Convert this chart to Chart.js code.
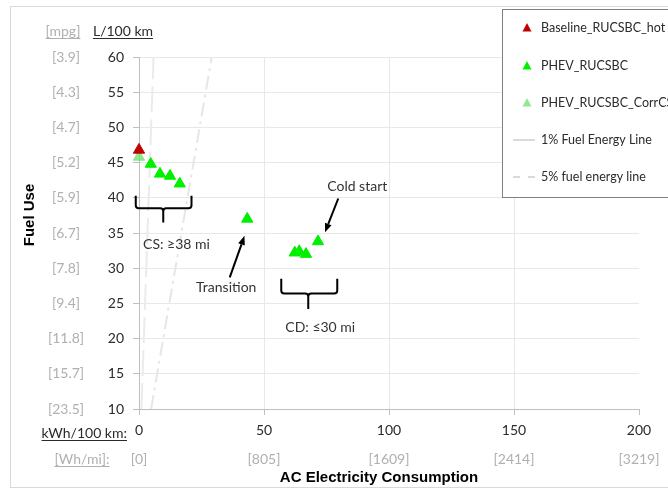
<!DOCTYPE html>
<html>
<head>
<meta charset="utf-8">
<script src="https://cdn.jsdelivr.net/npm/chart.js@4/dist/chart.umd.min.js"></script>
<style>
  html, body { margin: 0; padding: 0; background: #fff; }
  #wrap { width: 668px; height: 489px; position: relative; }
</style>
</head>
<body>
<div id="wrap"><canvas id="c" width="668" height="489"></canvas></div>
<script>
// ---- data ----
const baselineX = [0];
const baselineY = [46.8];
const phevX = [4.7, 8.4, 12.4, 16.3, 43.3, 62.3, 64.1, 66.8, 71.6];
const phevY = [44.8, 43.4, 43.1, 42.0, 37.0, 32.2, 32.4, 32.0, 33.8];
const corrX = [0];
const corrY = [45.8];
const line1X = [0.97, 5.82];
const line1Y = [10, 60];
const line5X = [4.85, 29.1];
const line5Y = [10, 60];
const seriesNames = ['Baseline_RUCSBC_hot', 'PHEV_RUCSBC', 'PHEV_RUCSBC_CorrCS', '1% Fuel Energy Line', '5% fuel energy line'];
const yTickValues = [10, 15, 20, 25, 30, 35, 40, 45, 50, 55, 60];
const mpgLabels = ['[23.5]', '[15.7]', '[11.8]', '[9.4]', '[7.8]', '[6.7]', '[5.9]', '[5.2]', '[4.7]', '[4.3]', '[3.9]'];
const xTickValues = [0, 50, 100, 150, 200];
const whMiLabels = ['[0]', '[805]', '[1609]', '[2414]', '[3219]'];
const annotationTexts = ['CS: \u226538 mi', 'Transition', 'Cold start', 'CD: \u226430 mi'];
const annotationX = [15.0, 34.9, 87.3, 72.5];
const annotationY = [33.4, 27.2, 41.6, 21.6];
// arrows: [fromX, fromY, toX, toY]
const transitionArrow = [36.3, 28.7, 42.2, 34.6];
const coldStartArrow = [79.7, 39.9, 74.4, 35.1];
// braces: [x1, x2, centerX, topY, bottomY, tipY]
const csBrace = [-1.3, 21.0, 9.7, 40.3, 38.5, 36.5];
const cdBrace = [56.9, 79.3, 67.7, 28.5, 26.4, 24.2];

const pts = (xs, ys) => xs.map((x, i) => ({ x: x, y: ys[i] }));

const FONT = 'Lato, "Open Sans", sans-serif';
const DARK = '#2b2b2b';
const GREY = '#b0b0b0';

function underline(ctx, text, x, y, align, color) {
  const w = ctx.measureText(text).width;
  let x0 = x;
  if (align === 'center') x0 = x - w / 2;
  else if (align === 'right') x0 = x - w;
  ctx.strokeStyle = color;
  ctx.lineWidth = 1;
  ctx.beginPath();
  ctx.moveTo(x0, Math.round(y + 7) + 0.5);
  ctx.lineTo(x0 + w, Math.round(y + 7) + 0.5);
  ctx.stroke();
}

const decorPlugin = {
  id: 'decor',
  beforeDraw(chart) {
    const ctx = chart.ctx;
    ctx.save();
    ctx.fillStyle = '#fff';
    ctx.fillRect(0, 0, chart.width, chart.height);
    ctx.strokeStyle = '#d9d9d9';
    ctx.lineWidth = 1;
    ctx.strokeRect(10.5, 6.5, 700, 481);
    ctx.restore();
  },
  afterDraw(chart) {
    const ctx = chart.ctx;
    const xs = chart.scales.x, ys = chart.scales.y;
    ctx.save();
    ctx.textBaseline = 'middle';

    // secondary y labels (mpg)
    ctx.font = '14px ' + FONT;
    ctx.fillStyle = GREY;
    ctx.textAlign = 'center';
    yTickValues.forEach((v, i) => ctx.fillText(mpgLabels[i], 66, ys.getPixelForValue(v)));
    // headers
    ctx.fillText('[mpg]', 63, 31);
    underline(ctx, '[mpg]', 63, 31, 'center', GREY);
    ctx.fillStyle = DARK;
    ctx.fillText('L/100 km', 123, 31);
    underline(ctx, 'L/100 km', 123, 31, 'center', DARK);

    // secondary x labels (Wh/mi)
    ctx.fillStyle = GREY;
    xTickValues.forEach((v, i) => ctx.fillText(whMiLabels[i], xs.getPixelForValue(v), 459));
    ctx.fillText('[Wh/mi]:', 82, 459);
    underline(ctx, '[Wh/mi]:', 82, 459, 'center', GREY);
    ctx.fillStyle = DARK;
    ctx.textAlign = 'right';
    ctx.fillText('kWh/100 km:', 127, 433);
    underline(ctx, 'kWh/100 km:', 127, 433, 'right', DARK);

    // axis titles
    ctx.font = 'bold 15px "Liberation Sans", Arial, sans-serif';
    ctx.fillStyle = '#000';
    ctx.textAlign = 'center';
    ctx.fillText('AC Electricity Consumption', 379, 478);
    ctx.save();
    ctx.translate(30, 215);
    ctx.rotate(-Math.PI / 2);
    ctx.fillText('Fuel Use', 0, 0);
    ctx.restore();

    // annotations
    ctx.font = '14px ' + FONT;
    ctx.fillStyle = '#333';
    annotationTexts.forEach((t, i) => ctx.fillText(t, xs.getPixelForValue(annotationX[i]), ys.getPixelForValue(annotationY[i])));

    function arrow(a) {
      const x1 = xs.getPixelForValue(a[0]), y1 = ys.getPixelForValue(a[1]);
      const x2 = xs.getPixelForValue(a[2]), y2 = ys.getPixelForValue(a[3]);
      const ang = Math.atan2(y2 - y1, x2 - x1);
      const hl = 9, hw = 3.5;
      const bx = x2 - hl * Math.cos(ang), by = y2 - hl * Math.sin(ang);
      ctx.strokeStyle = '#000';
      ctx.lineWidth = 2;
      ctx.beginPath();
      ctx.moveTo(x1, y1);
      ctx.lineTo(bx, by);
      ctx.stroke();
      ctx.fillStyle = '#000';
      ctx.beginPath();
      ctx.moveTo(x2, y2);
      ctx.lineTo(bx + hw * Math.sin(ang), by - hw * Math.cos(ang));
      ctx.lineTo(bx - hw * Math.sin(ang), by + hw * Math.cos(ang));
      ctx.closePath();
      ctx.fill();
    }
    arrow(transitionArrow);
    arrow(coldStartArrow);

    function brace(b) {
      const x1 = xs.getPixelForValue(b[0]), x2 = xs.getPixelForValue(b[1]), cx = xs.getPixelForValue(b[2]);
      const top = ys.getPixelForValue(b[3]), bot = ys.getPixelForValue(b[4]), tip = ys.getPixelForValue(b[5]);
      const r = 3;
      ctx.strokeStyle = '#000';
      ctx.lineWidth = 2;
      ctx.beginPath();
      ctx.moveTo(x1, top);
      ctx.lineTo(x1, bot - r);
      ctx.quadraticCurveTo(x1, bot, x1 + r, bot);
      ctx.lineTo(cx - r, bot);
      ctx.quadraticCurveTo(cx, bot, cx, bot + r);
      ctx.lineTo(cx, tip);
      ctx.moveTo(cx, bot + r);
      ctx.quadraticCurveTo(cx, bot, cx + r, bot);
      ctx.lineTo(x2 - r, bot);
      ctx.quadraticCurveTo(x2, bot, x2, bot - r);
      ctx.lineTo(x2, top);
      ctx.stroke();
    }
    brace(csBrace);
    brace(cdBrace);

    // legend
    ctx.fillStyle = '#fff';
    ctx.fillRect(502.5, 9.5, 200, 188);
    ctx.strokeStyle = '#808080';
    ctx.lineWidth = 1;
    ctx.strokeRect(502.5, 9.5, 200, 188);
    const rows = [28, 66, 103, 140, 177];
    ctx.font = '12.5px ' + FONT;
    ctx.textAlign = 'left';
    chart.data.datasets.forEach((ds, i) => {
      const y = rows[i];
      if (ds.showLine) {
        ctx.strokeStyle = '#d9d9d9';
        ctx.lineWidth = ds.borderWidth;
        ctx.setLineDash(ds.legendDash || []);
        ctx.beginPath();
        ctx.moveTo(513, y);
        ctx.lineTo(535, y);
        ctx.stroke();
        ctx.setLineDash([]);
      } else {
        ctx.fillStyle = ds.backgroundColor;
        ctx.beginPath();
        ctx.moveTo(527, y - 5);
        ctx.lineTo(531.5, y + 3.5);
        ctx.lineTo(522.5, y + 3.5);
        ctx.closePath();
        ctx.fill();
      }
      ctx.fillStyle = DARK;
      ctx.fillText(ds.label, 541, y);
    });
    ctx.restore();
  }
};

new Chart(document.getElementById('c'), {
  type: 'scatter',
  data: {
    datasets: [
      { label: seriesNames[0], data: pts(baselineX, baselineY), pointStyle: 'triangle', pointRadius: 6.5,
        backgroundColor: '#c00000', borderColor: '#c00000', borderWidth: 1, clip: false },
      { label: seriesNames[1], data: pts(phevX, phevY), pointStyle: 'triangle', pointRadius: 6.5,
        backgroundColor: '#00f000', borderColor: '#00f000', borderWidth: 1, clip: false },
      { label: seriesNames[2], data: pts(corrX, corrY), pointStyle: 'triangle', pointRadius: 6.5,
        backgroundColor: 'rgba(110,225,110,0.75)', borderColor: 'rgba(110,225,110,0.75)', borderWidth: 1, clip: false },
      { label: seriesNames[3], data: pts(line1X, line1Y), showLine: true, pointRadius: 0,
        borderColor: '#ebebeb', borderWidth: 2, borderDash: [26, 7], legendDash: [] },
      { label: seriesNames[4], data: pts(line5X, line5Y), showLine: true, pointRadius: 0,
        borderColor: '#e6e6e6', borderWidth: 2, borderDash: [14, 5, 3, 5], legendDash: [7, 8] }
    ]
  },
  options: {
    responsive: false,
    animation: false,
    devicePixelRatio: 1,
    layout: { padding: { left: 0, top: 57, right: 29, bottom: 0 } },
    plugins: { legend: { display: false }, tooltip: { enabled: false } },
    scales: {
      x: {
        type: 'linear', min: 0, max: 200,
        afterBuildTicks: (s) => { s.ticks = xTickValues.map(v => ({ value: v })); },
        afterFit: (s) => { s.height = 80; },
        ticks: { color: DARK, font: { family: FONT, size: 14 }, padding: 7 },
        grid: {
          color: (c) => (c.tick && (c.tick.value === 0 || c.tick.value === 200)) ? 'rgba(0,0,0,0)' : '#e8e8e8',
          borderDash: [3, 2], tickBorderDash: [], tickColor: '#bfbfbf', tickLength: 6, drawTicks: true
        },
        border: { display: true, color: '#bfbfbf', width: 1 }
      },
      y: {
        type: 'linear', min: 10, max: 60,
        afterBuildTicks: (s) => { s.ticks = yTickValues.map(v => ({ value: v })); },
        afterFit: (s) => { s.width = 139; },
        ticks: { color: DARK, font: { family: FONT, size: 14 }, padding: 9 },
        grid: {
          color: (c) => (c.tick && c.tick.value === 10) ? 'rgba(0,0,0,0)' : '#e8e8e8',
          borderDash: [3, 2], tickBorderDash: [], tickColor: '#bfbfbf', tickLength: 6, drawTicks: true
        },
        border: { display: true, color: '#bfbfbf', width: 1 }
      }
    }
  },
  plugins: [decorPlugin]
});
</script>
</body>
</html>
